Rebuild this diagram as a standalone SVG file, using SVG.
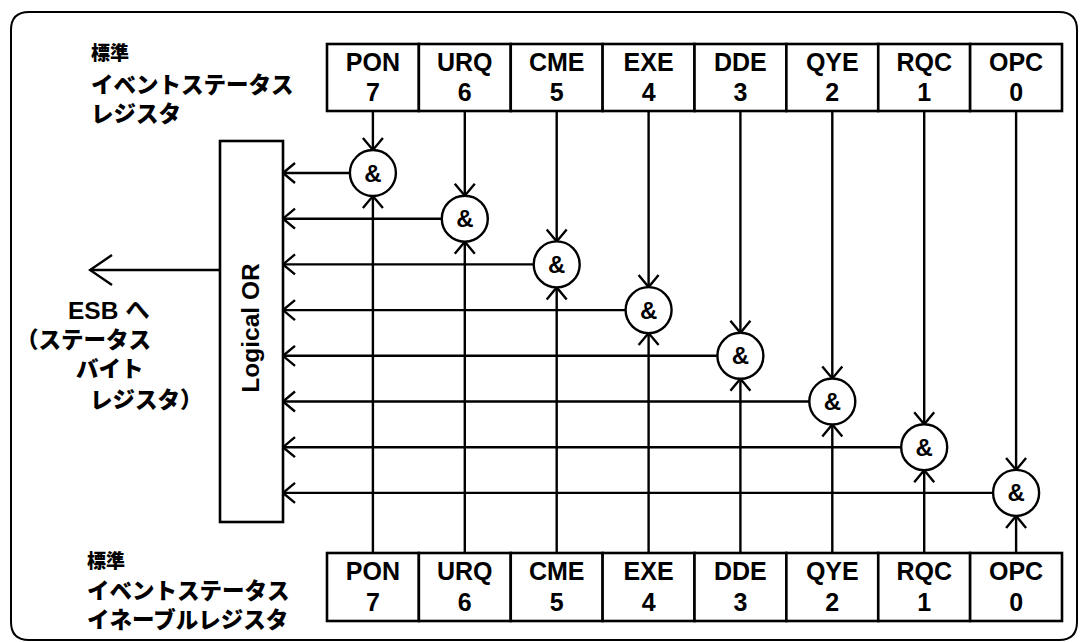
<svg xmlns="http://www.w3.org/2000/svg" width="1083" height="642" viewBox="0 0 1083 642">
<style>
  .frame{fill:none;stroke:#000;stroke-width:2}
  .box{fill:#fff;stroke:#000;stroke-width:2.6}
  .gate{fill:#fff;stroke:#000;stroke-width:2.4}
  .ln{fill:none;stroke:#000;stroke-width:2.4}
  .reg{font-family:"Liberation Sans",Arial,sans-serif;font-weight:bold;font-size:25px;text-anchor:middle;fill:#000}
  .amp{font-family:"Liberation Sans",Arial,sans-serif;font-weight:bold;font-size:24px;text-anchor:middle;fill:#000}
  .jp{font-family:"Noto Sans CJK JP","Noto Sans CJK SC",sans-serif;font-weight:900;font-size:22.5px;fill:#000}
  .jps{font-family:"Noto Sans CJK JP","Noto Sans CJK SC",sans-serif;font-weight:900;font-size:19px;fill:#000}
  .esb{font-family:"Liberation Sans","Noto Sans CJK JP",sans-serif;font-weight:bold;font-size:24.5px;fill:#000}
  .or{font-family:"Liberation Sans",Arial,sans-serif;font-weight:bold;font-size:24.5px;text-anchor:middle;fill:#000}
</style>
<defs>
  <marker id="ah" viewBox="-14 -12 16 24" markerWidth="16" markerHeight="24" refX="0" refY="0" orient="auto" markerUnits="userSpaceOnUse">
    <path d="M-12,-10 L0,0 L-12,10" fill="none" stroke="#000" stroke-width="2.4"/>
  </marker>
  <marker id="ahb" viewBox="-24 -17 26 34" markerWidth="26" markerHeight="34" refX="0" refY="0" orient="auto" markerUnits="userSpaceOnUse">
    <path d="M-22,-15 L0,0 L-22,15" fill="none" stroke="#000" stroke-width="2.4"/>
  </marker>
</defs>
<rect width="1083" height="642" fill="#fff"/>
<path id="frame" class="frame" d="M11,30 Q11,12 29,12 L1059,12 Q1077,12 1077,30 L1077,622 Q1077,640 1059,640 L29,640 Q11,640 11,622 Z"/>

<g id="connectors">
  <line class="ln" x1="372.9" y1="111" x2="372.9" y2="150" marker-end="url(#ah)"/>
  <line class="ln" x1="464.8" y1="111" x2="464.8" y2="195.7" marker-end="url(#ah)"/>
  <line class="ln" x1="556.7" y1="111" x2="556.7" y2="241.4" marker-end="url(#ah)"/>
  <line class="ln" x1="648.6" y1="111" x2="648.6" y2="287.1" marker-end="url(#ah)"/>
  <line class="ln" x1="740.4" y1="111" x2="740.4" y2="332.8" marker-end="url(#ah)"/>
  <line class="ln" x1="832.3" y1="111" x2="832.3" y2="378.5" marker-end="url(#ah)"/>
  <line class="ln" x1="924.2" y1="111" x2="924.2" y2="424.2" marker-end="url(#ah)"/>
  <line class="ln" x1="1016.1" y1="111" x2="1016.1" y2="469.9" marker-end="url(#ah)"/>
  <line class="ln" x1="372.9" y1="553" x2="372.9" y2="196" marker-end="url(#ah)"/>
  <line class="ln" x1="464.8" y1="553" x2="464.8" y2="241.7" marker-end="url(#ah)"/>
  <line class="ln" x1="556.7" y1="553" x2="556.7" y2="287.4" marker-end="url(#ah)"/>
  <line class="ln" x1="648.6" y1="553" x2="648.6" y2="333.1" marker-end="url(#ah)"/>
  <line class="ln" x1="740.4" y1="553" x2="740.4" y2="378.8" marker-end="url(#ah)"/>
  <line class="ln" x1="832.3" y1="553" x2="832.3" y2="424.5" marker-end="url(#ah)"/>
  <line class="ln" x1="924.2" y1="553" x2="924.2" y2="470.2" marker-end="url(#ah)"/>
  <line class="ln" x1="1016.1" y1="553" x2="1016.1" y2="515.9" marker-end="url(#ah)"/>
  <line class="ln" x1="349.9" y1="173" x2="283" y2="173" marker-end="url(#ah)"/>
  <line class="ln" x1="441.8" y1="218.7" x2="283" y2="218.7" marker-end="url(#ah)"/>
  <line class="ln" x1="533.7" y1="264.4" x2="283" y2="264.4" marker-end="url(#ah)"/>
  <line class="ln" x1="625.6" y1="310.1" x2="283" y2="310.1" marker-end="url(#ah)"/>
  <line class="ln" x1="717.4" y1="355.8" x2="283" y2="355.8" marker-end="url(#ah)"/>
  <line class="ln" x1="809.3" y1="401.5" x2="283" y2="401.5" marker-end="url(#ah)"/>
  <line class="ln" x1="901.2" y1="447.2" x2="283" y2="447.2" marker-end="url(#ah)"/>
  <line class="ln" x1="993.1" y1="492.9" x2="283" y2="492.9" marker-end="url(#ah)"/>
  <line class="ln" x1="220" y1="270" x2="90" y2="270" marker-end="url(#ahb)"/>
</g>

<g id="label-top">
  <text class="jps" x="91" y="59.5">標準</text>
  <text class="jp" x="91" y="92.5">イベントステータス</text>
  <text class="jp" x="91" y="121.5">レジスタ</text>
</g>

<g id="register-top">
  <g id="top-PON"><rect class="box" x="327" y="44" width="91.875" height="67"/><text class="reg" x="372.9" y="71">PON</text><text class="reg" x="372.9" y="101">7</text></g>
  <g id="top-URQ"><rect class="box" x="418.875" y="44" width="91.875" height="67"/><text class="reg" x="464.8" y="71">URQ</text><text class="reg" x="464.8" y="101">6</text></g>
  <g id="top-CME"><rect class="box" x="510.75" y="44" width="91.875" height="67"/><text class="reg" x="556.7" y="71">CME</text><text class="reg" x="556.7" y="101">5</text></g>
  <g id="top-EXE"><rect class="box" x="602.625" y="44" width="91.875" height="67"/><text class="reg" x="648.6" y="71">EXE</text><text class="reg" x="648.6" y="101">4</text></g>
  <g id="top-DDE"><rect class="box" x="694.5" y="44" width="91.875" height="67"/><text class="reg" x="740.4" y="71">DDE</text><text class="reg" x="740.4" y="101">3</text></g>
  <g id="top-QYE"><rect class="box" x="786.375" y="44" width="91.875" height="67"/><text class="reg" x="832.3" y="71">QYE</text><text class="reg" x="832.3" y="101">2</text></g>
  <g id="top-RQC"><rect class="box" x="878.25" y="44" width="91.875" height="67"/><text class="reg" x="924.2" y="71">RQC</text><text class="reg" x="924.2" y="101">1</text></g>
  <g id="top-OPC"><rect class="box" x="970.125" y="44" width="91.875" height="67"/><text class="reg" x="1016.1" y="71">OPC</text><text class="reg" x="1016.1" y="101">0</text></g>
</g>

<g id="logical-or">
  <rect class="box" x="220" y="141" width="63" height="381"/>
  <text class="or" transform="translate(258.5,328) rotate(-90)">Logical OR</text>
</g>

<g id="gate-7"><circle class="gate" cx="372.9" cy="173" r="23"/><text class="amp" x="372.9" y="181.5">&amp;</text></g>
<g id="gate-6"><circle class="gate" cx="464.8" cy="218.7" r="23"/><text class="amp" x="464.8" y="227.2">&amp;</text></g>
<g id="gate-5"><circle class="gate" cx="556.7" cy="264.4" r="23"/><text class="amp" x="556.7" y="272.9">&amp;</text></g>
<g id="gate-4"><circle class="gate" cx="648.6" cy="310.1" r="23"/><text class="amp" x="648.6" y="318.6">&amp;</text></g>
<g id="gate-3"><circle class="gate" cx="740.4" cy="355.8" r="23"/><text class="amp" x="740.4" y="364.3">&amp;</text></g>
<g id="gate-2"><circle class="gate" cx="832.3" cy="401.5" r="23"/><text class="amp" x="832.3" y="410">&amp;</text></g>
<g id="gate-1"><circle class="gate" cx="924.2" cy="447.2" r="23"/><text class="amp" x="924.2" y="455.7">&amp;</text></g>
<g id="gate-0"><circle class="gate" cx="1016.1" cy="492.9" r="23"/><text class="amp" x="1016.1" y="501.4">&amp;</text></g>

<g id="label-esb">
  <text class="esb" x="68" y="319">ESB へ</text>
  <text class="jp" x="16" y="348">（ステータス</text>
  <text class="jp" x="76" y="377">バイト</text>
  <text class="jp" x="90" y="408">レジスタ）</text>
</g>

<g id="label-bottom">
  <text class="jps" x="87" y="568">標準</text>
  <text class="jp" x="87" y="598.5">イベントステータス</text>
  <text class="jp" x="87" y="628">イネーブルレジスタ</text>
</g>

<g id="register-bottom">
  <g id="en-PON"><rect class="box" x="327" y="553" width="91.875" height="68"/><text class="reg" x="372.9" y="580">PON</text><text class="reg" x="372.9" y="610.5">7</text></g>
  <g id="en-URQ"><rect class="box" x="418.875" y="553" width="91.875" height="68"/><text class="reg" x="464.8" y="580">URQ</text><text class="reg" x="464.8" y="610.5">6</text></g>
  <g id="en-CME"><rect class="box" x="510.75" y="553" width="91.875" height="68"/><text class="reg" x="556.7" y="580">CME</text><text class="reg" x="556.7" y="610.5">5</text></g>
  <g id="en-EXE"><rect class="box" x="602.625" y="553" width="91.875" height="68"/><text class="reg" x="648.6" y="580">EXE</text><text class="reg" x="648.6" y="610.5">4</text></g>
  <g id="en-DDE"><rect class="box" x="694.5" y="553" width="91.875" height="68"/><text class="reg" x="740.4" y="580">DDE</text><text class="reg" x="740.4" y="610.5">3</text></g>
  <g id="en-QYE"><rect class="box" x="786.375" y="553" width="91.875" height="68"/><text class="reg" x="832.3" y="580">QYE</text><text class="reg" x="832.3" y="610.5">2</text></g>
  <g id="en-RQC"><rect class="box" x="878.25" y="553" width="91.875" height="68"/><text class="reg" x="924.2" y="580">RQC</text><text class="reg" x="924.2" y="610.5">1</text></g>
  <g id="en-OPC"><rect class="box" x="970.125" y="553" width="91.875" height="68"/><text class="reg" x="1016.1" y="580">OPC</text><text class="reg" x="1016.1" y="610.5">0</text></g>
</g>
</svg>
